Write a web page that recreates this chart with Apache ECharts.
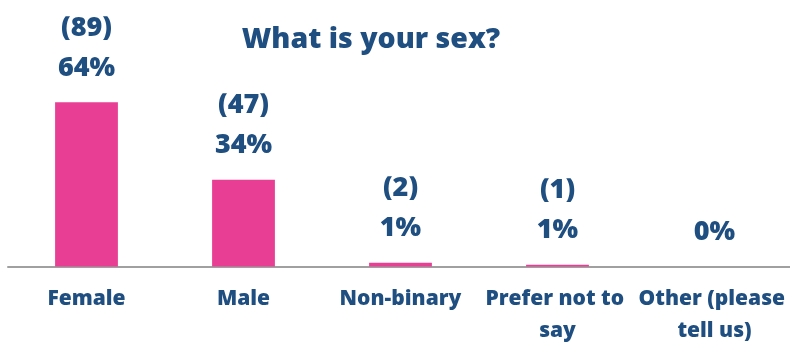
<!DOCTYPE html>
<html>
<head>
<meta charset="utf-8">
<script src="https://cdn.jsdelivr.net/npm/echarts@6/dist/echarts.min.js"></script>
<style>
  html, body { margin: 0; padding: 0; background: #ffffff; }
  #chart { width: 790px; height: 347px; }
</style>
</head>
<body>
<div id="chart"></div>
<script>
// Survey question: respondent sex
const categories = ['Female', 'Male', 'Non-binary', 'Prefer not to say', 'Other (please tell us)'];
const counts = [89, 47, 2, 1, 0];
const percents = [64, 34, 1, 1, 0];

const NAVY = '#1f4e80';
const PINK = '#e83e93';
const FONT = '"Open Sans", "DejaVu Sans", sans-serif';

const chart = echarts.init(document.getElementById('chart'));

chart.setOption({
  backgroundColor: '#ffffff',
  animation: false,
  title: {
    text: 'What is your sex?',
    left: 366,
    top: 20,
    textAlign: 'center',
    textStyle: { color: NAVY, fontFamily: FONT, fontWeight: 800, fontSize: 28.5 }
  },
  grid: {
    left: 8, right: -3, top: 82, bottom: 80.5,
    containLabel: false,
    outerBoundsMode: 'none'
  },
  xAxis: {
    type: 'category',
    data: categories,
    axisLine: { show: true, lineStyle: { color: '#a0a0a0', width: 2 } },
    axisTick: { show: false },
    axisLabel: {
      interval: 0,
      margin: 17,
      color: NAVY,
      fontFamily: FONT,
      fontWeight: 800,
      fontSize: 21,
      lineHeight: 32,
      width: 152,
      overflow: 'break'
    }
  },
  yAxis: {
    type: 'value',
    min: 0,
    max: 100,
    show: false,
    splitLine: { show: false }
  },
  series: [{
    type: 'bar',
    data: counts,
    barWidth: '40%',
    itemStyle: { color: PINK },
    label: {
      show: true,
      position: 'top',
      distance: 14,
      color: NAVY,
      fontFamily: FONT,
      fontWeight: 800,
      fontSize: 27,
      lineHeight: 40,
      formatter: function (p) {
        const n = counts[p.dataIndex];
        const pct = percents[p.dataIndex] + '%';
        return n > 0 ? '(' + n + ')\n' + pct : pct;
      }
    }
  }]
});
</script>
</body>
</html>
